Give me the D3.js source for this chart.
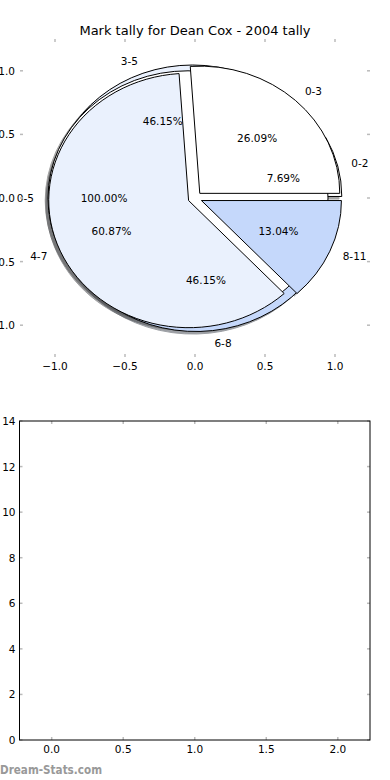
<!DOCTYPE html>
<html><head><meta charset="utf-8">
<script src="https://cdn.jsdelivr.net/npm/d3@7"></script>
<style>body{margin:0;background:#fff} svg{display:block;font-family:"DejaVu Sans",sans-serif}</style>
</head><body><svg id="c" width="390" height="780"></svg>
<script>
const titleText = "Mark tally for Dean Cox - 2004 tally";
const pieALabels = ["0-3", "4-7", "8-11"];
const pieAValues = [6, 14, 3];
const pieBLabels = ["0-2", "3-5", "6-8"];
const pieBValues = [1, 6, 6];
const pieCLabels = ["0-5"];
const pieCValues = [1];
const pieTicks = [-1.0, -0.5, 0.0, 0.5, 1.0];
const barXTicks = [0.0, 0.5, 1.0, 1.5, 2.0];
const barYTicks = [0, 2, 4, 6, 8, 10, 12, 14];
const watermark = "Dream-Stats.com";
const wedgeColors = ["#ffffff", "#eaf1fd", "#c5d8fb"];

const EXPLODE = 0.05, LABEL_DIST = 1.1, PCT_DIST = 0.6;
const tickColor = "#bbbbbb";
const fs = 10.5;

const svg = d3.select("#c");

// ---------- pie axes ----------
const px = d3.scaleLinear().domain([-1.25, 1.25]).range([20, 370]);
const py = d3.scaleLinear().domain([-1.25, 1.25]).range([357, 39]);
const rx = px(1) - px(0), ry = py(0) - py(1);

svg.append("text").attr("x", 195).attr("y", 30).attr("text-anchor", "middle")
  .attr("dominant-baseline", "central").attr("font-size", 13).attr("fill", "#000").text(titleText);

function layout(labels, values) {
  const total = d3.sum(values);
  let a = 0;
  return values.map((v, i) => {
    const t1 = a, t2 = a + 360 * v / total; a = t2;
    const tm = (t1 + t2) / 2 * Math.PI / 180;
    const cx = EXPLODE * Math.cos(tm), cy = EXPLODE * Math.sin(tm);
    return {label: labels[i], pct: (100 * v / total).toFixed(2) + "%", t1, t2, tm, cx, cy, color: wedgeColors[i % wedgeColors.length]};
  });
}
const pies = [layout(pieBLabels, pieBValues), layout(pieCLabels, pieCValues), layout(pieALabels, pieAValues)];
const arc = d3.arc().innerRadius(0).outerRadius(1);
function wedgePath(w) {
  const r = Math.PI / 180;
  return arc({startAngle: Math.PI / 2 - w.t2 * r, endAngle: Math.PI / 2 - w.t1 * r});
}

// shadows
const gShadow = svg.append("g");
pies.forEach(p => p.forEach(w => {
  const c = d3.rgb(w.color);
  const sc = d3.rgb(c.r * 0.3, c.g * 0.3, c.b * 0.3);
  gShadow.append("path")
    .attr("transform", `translate(${px(w.cx - 0.02)},${py(w.cy - 0.02)}) scale(${rx},${ry})`)
    .attr("d", wedgePath(w))
    .attr("fill", sc.toString()).attr("stroke", sc.toString()).attr("stroke-width", 1)
    .attr("vector-effect", "non-scaling-stroke").attr("opacity", 0.5);
}));
// wedges
const gW = svg.append("g");
pies.forEach(p => p.forEach(w => {
  gW.append("path")
    .attr("transform", `translate(${px(w.cx)},${py(w.cy)}) scale(${rx},${ry})`)
    .attr("d", wedgePath(w))
    .attr("fill", w.color).attr("stroke", "#000").attr("stroke-width", 1)
    .attr("stroke-linejoin", "miter")
    .attr("vector-effect", "non-scaling-stroke");
}));
// labels
const gT = svg.append("g").attr("font-size", fs).attr("fill", "#000");
pies.forEach(p => p.forEach(w => {
  const lx = w.cx + LABEL_DIST * Math.cos(w.tm), ly = w.cy + LABEL_DIST * Math.sin(w.tm);
  gT.append("text").attr("x", px(lx)).attr("y", py(ly))
    .attr("text-anchor", lx > 0 ? "start" : "end").attr("dominant-baseline", "central").text(w.label);
  const qx = w.cx + PCT_DIST * Math.cos(w.tm), qy = w.cy + PCT_DIST * Math.sin(w.tm);
  gT.append("text").attr("x", px(qx)).attr("y", py(qy))
    .attr("text-anchor", "middle").attr("dominant-baseline", "central").text(w.pct);
}));
// pie axis ticks
const fmt1 = d3.format(".1f");
const gPA = svg.append("g").attr("stroke", tickColor).attr("stroke-width", 1.5);
pieTicks.forEach(t => {
  gPA.append("line").attr("x1", px(t)).attr("x2", px(t)).attr("y1", py(1.25)).attr("y2", py(1.25) + 3);
  gPA.append("line").attr("x1", px(t)).attr("x2", px(t)).attr("y1", py(-1.25)).attr("y2", py(-1.25) - 3);
  gPA.append("line").attr("y1", py(t)).attr("y2", py(t)).attr("x1", px(-1.25)).attr("x2", px(-1.25) + 3);
  gPA.append("line").attr("y1", py(t)).attr("y2", py(t)).attr("x1", px(1.25)).attr("x2", px(1.25) - 3);
});
const gPL = svg.append("g").attr("font-size", fs).attr("fill", "#000");
pieTicks.forEach(t => {
  gPL.append("text").attr("x", px(t)).attr("y", py(-1.25) + 9).attr("text-anchor", "middle")
    .attr("dominant-baseline", "central").text(fmt1(t));
  gPL.append("text").attr("x", px(-1.25) - 5).attr("y", py(t)).attr("text-anchor", "end")
    .attr("dominant-baseline", "central").text(fmt1(t));
});

// ---------- bottom axes ----------
const bx = d3.scaleLinear().domain([-0.225, 2.225]).range([19.5, 370]);
const by = d3.scaleLinear().domain([0, 14]).range([740, 421]);
const gB = svg.append("g").attr("stroke", tickColor).attr("stroke-width", 1.5);
barXTicks.forEach(t => {
  gB.append("line").attr("x1", bx(t)).attr("x2", bx(t)).attr("y1", by(14)).attr("y2", by(14) + 3);
  gB.append("line").attr("x1", bx(t)).attr("x2", bx(t)).attr("y1", by(0)).attr("y2", by(0) - 3);
});
barYTicks.forEach(t => {
  gB.append("line").attr("y1", by(t)).attr("y2", by(t)).attr("x1", bx(-0.225)).attr("x2", bx(-0.225) + 3);
  gB.append("line").attr("y1", by(t)).attr("y2", by(t)).attr("x1", bx(2.225)).attr("x2", bx(2.225) - 3);
});
svg.append("rect").attr("x", bx(-0.225)).attr("y", by(14))
  .attr("width", bx(2.225) - bx(-0.225)).attr("height", by(0) - by(14))
  .attr("fill", "none").attr("stroke", "#000").attr("stroke-width", 1);
const gBL = svg.append("g").attr("font-size", fs).attr("fill", "#000");
barXTicks.forEach(t => {
  gBL.append("text").attr("x", bx(t)).attr("y", by(0) + 9).attr("text-anchor", "middle")
    .attr("dominant-baseline", "central").text(fmt1(t));
});
barYTicks.forEach(t => {
  gBL.append("text").attr("x", bx(-0.225) - 4).attr("y", by(t)).attr("text-anchor", "end")
    .attr("dominant-baseline", "central").text(String(t));
});

svg.append("text").attr("x", 0).attr("y", 769).attr("dominant-baseline", "central")
  .attr("font-size", 13).attr("font-weight", "bold").attr("textLength", 102).attr("lengthAdjust", "spacingAndGlyphs")
  .attr("fill", "#999999").text(watermark);
</script>
</body></html>
